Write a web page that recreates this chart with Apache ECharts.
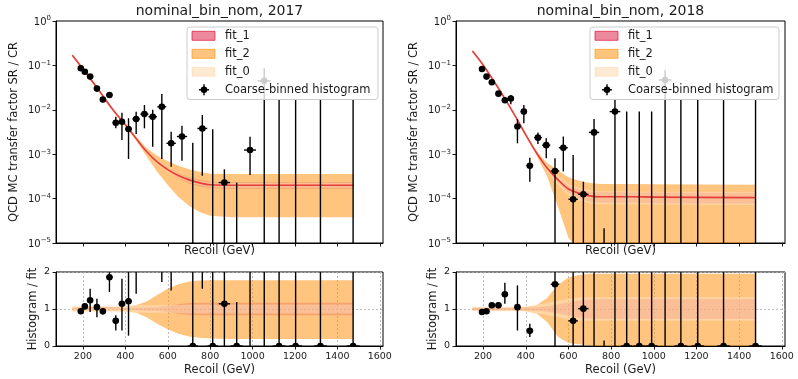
<!DOCTYPE html>
<html><head><meta charset="utf-8">
<script src="https://cdn.jsdelivr.net/npm/echarts@6/dist/echarts.min.js"></script>
<style>html,body{margin:0;padding:0;background:#fff}#c{width:798px;height:379px}</style>
</head><body><div id="c"></div>
<script>
// ---------- tick labels ----------
const xTicks = [200, 400, 600, 800, 1000, 1200, 1400, 1600];
const titles = ['nominal_bin_nom, 2017', 'nominal_bin_nom, 2018'];
const legendNames = ['fit_1', 'fit_2', 'fit_0', 'Coarse-binned histogram'];

// ---------- 2017 coarse-binned histogram (top panel) ----------
const x2017 = [190,209,234,266,294,325,355,384,415,451,490,529,572,616,667,718,763,812,867,925,988,1055,1125,1203,1320,1474];
const xerr2017 = [9,10,12,14,14,15,15,15,16,18,19,20,21,22,24,24,23,25,27,28,28,30,30,30,30,30];
const val2017 = [0.086,0.072,0.056,0.030,0.017,0.0215,0.0051,0.0054,0.0037,0.0062,0.008,0.007,0.0117,0.00176,0.0025,0,0.0038,0,0.00023,0,0.00124,0.045,0,0,0,0];
const lo2017 = [0.080,0.067,0.050,0.026,0.0148,0.0185,0.00383,0.00209,0.00078,0.00285,0.00383,0.00148,0.00078,0.000524,0.000714,0,0.000328,0,0,0,0.00034,0,0,0,0,0];
const hi2017 = [0.093,0.078,0.063,0.035,0.0195,0.025,0.0070,0.0086,0.00645,0.00906,0.0128,0.0100,0.0227,0.00321,0.00439,0.00182,0.00764,0.00363,0.000457,0.000229,0.00248,0.086,0.0166,0.0166,0.0166,0.0166];
// ratio panel 2017
const rval2017 = [0.94,1.07,1.235,1.05,0.94,1.86,0.68,1.14,1.21,2.7,5.9,6.1,8.8,3.4,7.6,0,19,0,1.14,0,6.2,225,0,0,0,0];
const rlo2017 = [0.91,1.0,0.92,0.78,0.85,1.46,0.42,0.42,0.28,1.41,2.8,2.1,1.73,1.5,2.2,0,1.55,0,-0.5,0,-0.5,-1,0,0,0,0];
const rhi2017 = [0.97,1.15,1.55,1.28,1.03,2.3,0.83,1.82,2.2,4,9,9,17,6,13,9,37,18,2.3,1.19,12,430,80,80,80,80];

// ---------- 2018 coarse-binned histogram ----------
const x2018 = [195,216,241,272,302,330,361,391,419,457,496,537,576,622,670,720,767,818,873,932,990,1053,1127,1206,1327,1477];
const xerr2018 = [9,10,12,14,14,15,15,15,16,18,19,20,21,22,24,24,23,25,27,28,28,30,30,30,30,30];
const val2018 = [0.083,0.056,0.0417,0.0231,0.0164,0.018,0.0042,0.0091,0.00055,0.00236,0.0016,0.00042,0.0014,0.0000964,0.000125,0.0031,0,0.0091,0,0,0,0.047,0,0,0,0];
const lo2018 = [0.078,0.052,0.038,0.021,0.0150,0.0133,0.00176,0.0050,0.00024,0.0017,0.00081,0,0.00041,0,0,0,0,0,0,0,0,0,0,0,0,0];
const hi2018 = [0.088,0.060,0.046,0.025,0.0178,0.0216,0.0062,0.0128,0.00083,0.0031,0.0023,0.00081,0.0025,0.00096,0.00024,0.0062,0.0000214,0.0166,0.0091,0.0091,0.0091,0.079,0.0166,0.0166,0.0166,0.0166];
const rval2018 = [0.92,0.94,1.1,1.1,1.4,2.4,1.05,2.5,0.41,2.2,3.2,1.67,7,0.68,1.01,28,null,83,0,0,0,430,0,0,0,0];
const rlo2018 = [0.89,0.9,1.03,1.02,1.14,2.1,0.42,2.2,0.24,2.05,2.05,-0.5,2.2,-0.5,-0.5,-1,0,-1,0,0,0,-1,0,0,0,0];
const rhi2018 = [0.95,0.98,1.17,1.18,1.71,2.8,1.64,3.5,0.6,2.6,4.6,2.5,12,2.5,2.5,56,0.15,150,80,80,80,700,150,150,150,150];

// ---------- fits ----------
const fitX = [150,200,250,300,350,400,450,500,550,600,650,700,750,800,900,1000,1475];
const fit2017 = [0.17,0.083,0.040,0.0187,0.0089,0.00462,0.00228,0.00115,0.00067,0.00045,0.00033,0.000264,0.000226,0.000205,0.0002,0.0002,0.0002];
const fit2018 = [0.21,0.102,0.0446,0.0186,0.0073,0.00272,0.00108,0.00049,0.000268,0.000164,0.000132,0.000115,0.00011,0.00011,0.00011,0.000108,0.000105];
// band edges relative to the central fit
const f2hi2017 = [1.06,1.06,1.06,1.06,1.06,1.07,1.1,1.2,1.38,1.55,1.67,1.74,1.77,1.78,1.78,1.78,1.78];
const f2lo2017 = [0.94,0.94,0.94,0.94,0.94,0.93,0.9,0.78,0.6,0.45,0.33,0.26,0.22,0.2,0.19,0.19,0.19];
const f1hi2017 = [1.03,1.05,1.06,1.06,1.04,1.03,1.03,1.04,1.05,1.08,1.13,1.16,1.17,1.17,1.17,1.17,1.17];
const f1lo2017 = [0.99,0.99,1.0,1.0,0.99,0.98,0.97,0.96,0.95,0.92,0.87,0.84,0.83,0.83,0.83,0.83,0.83];
const f0hi2017 = [1.1,1.1,1.1,1.1,1.1,1.1,1.1,1.1,1.1,1.1,1.11,1.12,1.12,1.12,1.12,1.12,1.12];
const f0lo2017 = [0.9,0.9,0.9,0.9,0.9,0.9,0.9,0.9,0.9,0.9,0.89,0.88,0.88,0.88,0.88,0.88,0.88];
const f2hi2018 = [1.05,1.05,1.05,1.05,1.05,1.06,1.1,1.3,1.65,1.85,1.92,1.95,1.95,1.95,1.95,1.95,1.95];
const f2lo2018 = [0.95,0.95,0.95,0.95,0.95,0.94,0.88,0.65,0.25,0.08,0.05,0.02,-0.1,-0.2,-0.3,-0.3,-0.3];
const f1hi2018 = [1.03,1.03,1.03,1.03,1.03,1.04,1.05,1.07,1.12,1.18,1.23,1.26,1.27,1.27,1.27,1.27,1.27];
const f1lo2018 = [0.97,0.97,0.97,0.97,0.97,0.96,0.95,0.93,0.88,0.82,0.77,0.74,0.73,0.73,0.73,0.73,0.73];
const f0hi2018 = [1.08,1.08,1.08,1.08,1.08,1.1,1.12,1.16,1.22,1.28,1.31,1.32,1.32,1.32,1.32,1.32,1.32];
const f0lo2018 = [0.92,0.92,0.92,0.92,0.92,0.9,0.88,0.84,0.78,0.72,0.69,0.68,0.68,0.68,0.68,0.68,0.68];

// ---------- styling ----------
const FONT = 'DejaVu Sans';
const TXT = '#1a1a1a';
const C_F2 = 'rgba(255,140,0,0.5)';
const C_F1 = 'rgba(225,40,40,0.22)';
const C_F0 = 'rgba(255,240,224,0.38)';
const C_LINE = 'rgba(228,38,38,0.85)';

const chart = echarts.init(document.getElementById('c'), null, {renderer: 'canvas'});

const gridBoxes = [
  {left: 56, top: 21, width: 327, height: 222},
  {left: 56, top: 272, width: 327, height: 74},
  {left: 456, top: 21, width: 329, height: 222},
  {left: 456, top: 272, width: 329, height: 74}
];
const grid = gridBoxes.map(g => Object.assign({show: true, borderColor: '#000', borderWidth: 1, backgroundColor: 'rgba(0,0,0,0)'}, g));

function xAx(gi, labels) {
  return {
    type: 'value', gridIndex: gi, min: 73, max: 1615,
    axisLine: {show: true, onZero: false, lineStyle: {color: '#000', width: 1}},
    axisTick: {show: true, length: 3.5, lineStyle: {color: '#000', width: 0.9}, customValues: xTicks},
    axisLabel: {show: labels, customValues: xTicks, fontSize: 9.5, color: TXT, margin: 6, fontFamily: FONT,
                formatter: v => String(Math.round(v))},
    splitLine: {show: labels, lineStyle: {color: '#b0b0b0', type: [2, 2], width: 0.8}},
    name: 'Recoil (GeV)', nameLocation: 'middle', nameGap: labels ? 18 : 2,
    nameTextStyle: {fontSize: 11.5, color: TXT, fontFamily: FONT}
  };
}
function logLabel(v) {
  const e = Math.round(Math.log10(v));
  return '{b|10}{s|' + (e === 0 ? '0' : '\u2212' + (-e)) + '}';
}
function yLog(gi) {
  return {
    type: 'log', logBase: 10, gridIndex: gi, min: 1e-5, max: 1,
    axisLine: {show: true, lineStyle: {color: '#000', width: 1}},
    axisTick: {show: true, length: 3.5, lineStyle: {color: '#000', width: 0.9}},
    axisLabel: {formatter: logLabel, margin: 5,
      rich: {b: {fontSize: 10, fontFamily: FONT, color: TXT, lineHeight: 12, verticalAlign: 'bottom'},
             s: {fontSize: 7, fontFamily: FONT, color: TXT, lineHeight: 8, verticalAlign: 'top'}}},
    splitLine: {show: false},
    name: 'QCD MC transfer factor SR / CR', nameLocation: 'middle', nameGap: 36,
    nameTextStyle: {fontSize: 11.5, color: TXT, fontFamily: FONT}
  };
}
function yRatio(gi) {
  return {
    type: 'value', gridIndex: gi, min: 0, max: 2, interval: 1,
    axisLine: {show: true, lineStyle: {color: '#000', width: 1}},
    axisTick: {show: true, length: 3.5, lineStyle: {color: '#000', width: 0.9}},
    axisLabel: {fontSize: 9.5, color: TXT, margin: 6, fontFamily: FONT},
    splitLine: {show: true, lineStyle: {color: '#b0b0b0', type: [2, 2], width: 0.8}},
    name: 'Histogram / fit', nameLocation: 'middle', nameGap: 17,
    nameTextStyle: {fontSize: 11.5, color: TXT, fontFamily: FONT}
  };
}

function band(name, gi, center, lo, hi, color, isLog) {
  return {
    type: 'custom', name: name, xAxisIndex: gi, yAxisIndex: gi, clip: true, silent: true, z: 1,
    animation: false,
    data: [[fitX[0], isLog ? center[0] : 1]],
    renderItem: function (params, api) {
      const pts = [];
      const f = v => isLog ? Math.max(v, 1e-7) : v;
      for (let i = 0; i < fitX.length; i++) pts.push(api.coord([fitX[i], f((isLog ? center[i] : 1) * hi[i])]));
      for (let i = fitX.length - 1; i >= 0; i--) pts.push(api.coord([fitX[i], f((isLog ? center[i] : 1) * lo[i])]));
      return {type: 'polygon', shape: {points: pts}, style: {fill: color}};
    }
  };
}
function centerLine(gi, center) {
  return {
    type: 'line', xAxisIndex: gi, yAxisIndex: gi, z: 2, smooth: 0.3, showSymbol: false, silent: true,
    data: fitX.map((x, i) => [x, center[i]]),
    lineStyle: {color: C_LINE, width: 1.7}
  };
}
function errBars(gi, xs, vals, los, his, xerrs, isLog) {
  const data = xs.map((x, i) => {
    let v = vals[i];
    if (v === null || (isLog && !(v > 0))) v = NaN;
    const lo = isLog ? Math.max(los[i], 1e-8) : los[i];
    return [x, his[i], lo, v, xerrs[i]];
  });
  return {
    type: 'custom', name: 'Coarse-binned histogram', xAxisIndex: gi, yAxisIndex: gi, clip: true, z: 3,
    silent: true, animation: false,
    dimensions: ['x', 'hi', 'lo', 'v', 'xe'],
    encode: {x: 0, y: 1},
    data: data,
    renderItem: function (params, api) {
      const x = api.value(0), hi = api.value(1), lo = api.value(2), v = api.value(3), xe = api.value(4);
      const a = api.coord([x, hi]), b = api.coord([x, lo]);
      const ch = [{type: 'line', shape: {x1: a[0], y1: a[1], x2: b[0], y2: b[1]}, style: {stroke: '#000', lineWidth: 1.4}}];
      if (isFinite(v)) {
        const c = api.coord([x, v]);
        const l = api.coord([x - xe, v]), r = api.coord([x + xe, v]);
        ch.push({type: 'line', shape: {x1: l[0], y1: c[1], x2: r[0], y2: c[1]}, style: {stroke: '#000', lineWidth: 1.4}});
        ch.push({type: 'circle', shape: {cx: c[0], cy: c[1], r: 3.3}, style: {fill: '#000'}});
      }
      return {type: 'group', children: ch};
    }
  };
}

function legendGraphic(x0, y0, w) {
  const rows = [8.8, 26.8, 44.8, 62.8];
  const els = [];
  els.push({type: 'rect', z: 100, shape: {x: x0, y: y0, width: w, height: 72.5, r: 3},
            style: {fill: 'rgba(255,255,255,0.8)', stroke: '#cccccc', lineWidth: 1}});
  const fills = ['rgba(220,20,60,0.5)', 'rgba(255,140,0,0.5)', 'rgba(255,140,0,0.18)'];
  const strokes = ['rgba(220,20,60,0.7)', 'rgba(255,140,0,0.6)', 'rgba(255,140,0,0.12)'];
  for (let i = 0; i < 3; i++) {
    els.push({type: 'rect', z: 101, shape: {x: x0 + 5, y: y0 + rows[i] - 4.5, width: 23, height: 9},
              style: {fill: fills[i], stroke: strokes[i], lineWidth: 1}});
  }
  const mx = x0 + 17, my = y0 + rows[3];
  els.push({type: 'line', z: 101, shape: {x1: mx, y1: my - 5.5, x2: mx, y2: my + 5.5}, style: {stroke: '#000', lineWidth: 1.4}});
  els.push({type: 'line', z: 101, shape: {x1: mx - 5, y1: my, x2: mx + 5, y2: my}, style: {stroke: '#000', lineWidth: 1.4}});
  els.push({type: 'circle', z: 101, shape: {cx: mx, cy: my, r: 3.3}, style: {fill: '#000'}});
  for (let i = 0; i < 4; i++) {
    els.push({type: 'text', z: 101, x: x0 + 38, y: y0 + rows[i],
              style: {text: legendNames[i], fill: TXT, font: '11.5px "' + FONT + '"',
                      textAlign: 'left', textVerticalAlign: 'middle', align: 'left', verticalAlign: 'middle'}});
  }
  return els;
}

const graphics = [];
graphics.push({type: 'text', z: 100, x: 219.5, y: 11,
  style: {text: titles[0], fill: TXT, font: '14px "' + FONT + '"', textAlign: 'center', textVerticalAlign: 'middle', align: 'center', verticalAlign: 'middle'}});
graphics.push({type: 'text', z: 100, x: 620.5, y: 11,
  style: {text: titles[1], fill: TXT, font: '14px "' + FONT + '"', textAlign: 'center', textVerticalAlign: 'middle', align: 'center', verticalAlign: 'middle'}});
legendGraphic(187, 27, 191).forEach(e => graphics.push(e));
legendGraphic(590, 27, 189).forEach(e => graphics.push(e));

const series = [
  // 2017 top
  band('fit_2', 0, fit2017, f2lo2017, f2hi2017, C_F2, true),
  band('fit_1', 0, fit2017, f1lo2017, f1hi2017, C_F1, true),
  band('fit_0', 0, fit2017, f0lo2017, f0hi2017, C_F0, true),
  centerLine(0, fit2017),
  errBars(0, x2017, val2017, lo2017, hi2017, xerr2017, true),
  // 2017 ratio
  band('fit_2', 1, null, f2lo2017, f2hi2017, C_F2, false),
  band('fit_1', 1, null, f1lo2017, f1hi2017, C_F1, false),
  band('fit_0', 1, null, f0lo2017, f0hi2017, C_F0, false),
  errBars(1, x2017, rval2017, rlo2017, rhi2017, xerr2017, false),
  // 2018 top
  band('fit_2', 2, fit2018, f2lo2018, f2hi2018, C_F2, true),
  band('fit_1', 2, fit2018, f1lo2018, f1hi2018, C_F1, true),
  band('fit_0', 2, fit2018, f0lo2018, f0hi2018, C_F0, true),
  centerLine(2, fit2018),
  errBars(2, x2018, val2018, lo2018, hi2018, xerr2018, true),
  // 2018 ratio
  band('fit_2', 3, null, f2lo2018, f2hi2018, C_F2, false),
  band('fit_1', 3, null, f1lo2018, f1hi2018, C_F1, false),
  band('fit_0', 3, null, f0lo2018, f0hi2018, C_F0, false),
  errBars(3, x2018, rval2018, rlo2018, rhi2018, xerr2018, false)
];

chart.setOption({
  animation: false,
  backgroundColor: '#fff',
  textStyle: {fontFamily: FONT},
  grid: grid,
  xAxis: [xAx(0, false), xAx(1, true), xAx(2, false), xAx(3, true)],
  yAxis: [yLog(0), yRatio(1), yLog(2), yRatio(3)],
  series: series,
  graphic: {elements: graphics}
});
</script>
</body></html>
